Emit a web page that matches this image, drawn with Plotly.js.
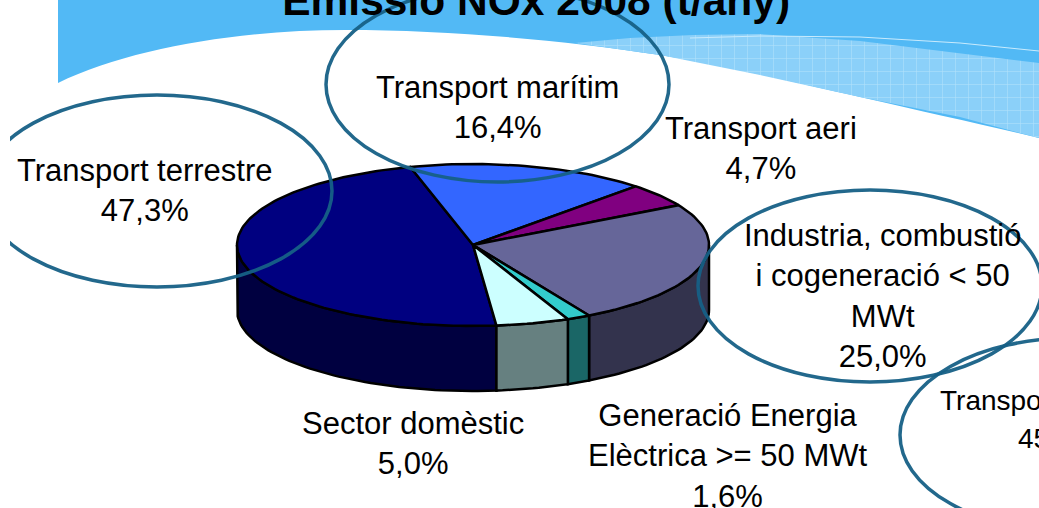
<!DOCTYPE html>
<html>
<head>
<meta charset="utf-8">
<script src="https://cdn.plot.ly/plotly-3.0.1.min.js"></script>
<style>html,body{margin:0;padding:0;background:#fff;overflow:hidden}#chart{width:1039px;height:508px}</style>
</head>
<body>
<div id="chart"></div>
<script>
// Data
const categories = ["Transport terrestre","Transport marítim","Transport aeri","Industria, combustió<br>i cogeneració < 50<br>MWt","Generació Energia<br>Elèctrica >= 50 MWt","Sector domèstic"];
const shares = [47.3,16.4,4.7,25.0,1.6,5.0];
const topColors = ["#000080","#3366FF","#800080","#666699","#33CCCC","#CCFFFF"];
const sideColors = ["#000040","#1A3380","#400040","#33334D","#1A6666","#668080"];
const labelX = [145,497,761,882,727,413];
const labelY = [190,107,148,296,456,443];

// Pie geometry
const cx = 473, cy = 245, rx = 236, ry = 81, depth = 65, startAngle = 174.3;

function pt(deg, dy){ const a = deg*Math.PI/180; return [cx+rx*Math.sin(a), cy-ry*Math.cos(a)+(dy||0)]; }
function arc(a1,a2,dy){ const out=[]; const n=Math.max(2,Math.ceil(Math.abs(a2-a1)/1.5)); for(let i=0;i<=n;i++){ out.push(pt(a1+(a2-a1)*i/n,dy)); } return out; }

const sideTraces = [], topTraces = [];
let angle = startAngle;
shares.forEach((v,i)=>{
  if(angle >= 360) angle -= 360;
  const a1 = angle, a2 = angle + v*3.6; angle = a2;
  // top face
  const top = [[cx,cy]].concat(arc(a1,a2,0)).concat([[cx,cy]]);
  topTraces.push({type:"scatter",mode:"lines",x:top.map(p=>p[0]),y:top.map(p=>p[1]),fill:"toself",fillcolor:topColors[i],
    line:{color:"#000",width:2.5},name:categories[i].replace(/<br>/g," "),text:v.toFixed(1).replace(".",",")+"%",hoverinfo:"name+text"});
  // visible wall: the front half of the rim
  const s1 = Math.max(a1,90), s2 = Math.min(a2,270);
  if(s2 > s1){
    const wall = arc(s1,s2,0).concat(arc(s2,s1,depth)); wall.push(wall[0]);
    sideTraces.push({type:"scatter",mode:"lines",x:wall.map(p=>p[0]),y:wall.map(p=>p[1]),fill:"toself",fillcolor:sideColors[i],
      line:{color:"#000",width:2.5},hoverinfo:"skip"});
  }
});

// Slide background band
const bandTopX = [575,630,693,760,860,960,1039];
const bandTopY = [43,38,35,34,41,53,63];
const bandLowX = [1039,960,860,760,660,575];
const bandLowY = [138,117,97,75,55,43];
const bandTrace = {type:"scatter",mode:"lines",x:bandTopX.concat(bandLowX),y:bandTopY.concat(bandLowY),fill:"toself",
  fillcolor:"#8BD0F9",line:{width:0,color:"rgba(0,0,0,0)"},
  fillpattern:{shape:"+",size:13,solidity:0.08,fgcolor:"#B5E2FC",bgcolor:"#8BD0F9"},hoverinfo:"skip"};
const glintTrace = {type:"scatter",mode:"lines",x:[690,760,860,960,1039],y:[38,36,37,43,51],line:{color:"#C9EBFD",width:1},hoverinfo:"skip"};

const ring = "rgba(22,96,134,0.95)";
function ellipse(x0,x1,y0,y1){ return {type:"circle",xref:"x",yref:"y",x0,x1,y0,y1,layer:"above",line:{color:ring,width:3.5},fillcolor:"rgba(0,0,0,0)"}; }

const shapes = [
  {type:"path",xref:"x",yref:"y",layer:"below",line:{width:0},fillcolor:"#52B9F5",
   path:"M58,0 L58,83 C130,48 240,30 345,30 C450,30 560,40 660,55 C730,66 800,84 860,97 C925,112 985,125 1039,138 L1039,0 Z"},
  ellipse(-18,332,95,287),
  ellipse(326,669,-13,182),
  ellipse(698,1042,190,382),
  ellipse(900,1244,338,532),
  {type:"rect",xref:"x",yref:"y",x0:0,x1:10,y0:90,y1:295,layer:"above",line:{width:0},fillcolor:"#fff"}
];

const labelFont = {family:"Liberation Sans, Arial, sans-serif",size:31,color:"#000"};
const annotations = categories.map((c,i)=>({x:labelX[i],y:labelY[i],xref:"x",yref:"y",showarrow:false,
  text:c+"<br>"+shares[i].toFixed(1).replace(".",",")+"%",font:labelFont,align:"center",xanchor:"center",yanchor:"middle"}));
annotations.push({x:938,y:400,xref:"x",yref:"y",showarrow:false,text:"Transpo",font:{family:labelFont.family,size:28,color:"#000"},xanchor:"left",yanchor:"middle"});
annotations.push({x:1016,y:438,xref:"x",yref:"y",showarrow:false,text:"45",font:{family:labelFont.family,size:28,color:"#000"},xanchor:"left",yanchor:"middle"});

const layout = {
  width:1039,height:508,margin:{l:0,r:0,t:0,b:0},paper_bgcolor:"#fff",plot_bgcolor:"rgba(0,0,0,0)",showlegend:false,
  title:{text:"<b>Emissió NOx 2008 (t/any)</b>",font:{family:"Liberation Sans, Arial, sans-serif",size:42.5,color:"#000"},
    xref:"paper",yref:"container",x:0.516,xanchor:"center",y:1.014,yanchor:"middle",automargin:false},
  xaxis:{range:[0,1039],visible:false,fixedrange:true},
  yaxis:{range:[508,0],visible:false,fixedrange:true},
  shapes,annotations
};
Plotly.newPlot("chart",[bandTrace,glintTrace].concat(sideTraces,topTraces),layout,{displayModeBar:false,staticPlot:true});
</script>
</body>
</html>
